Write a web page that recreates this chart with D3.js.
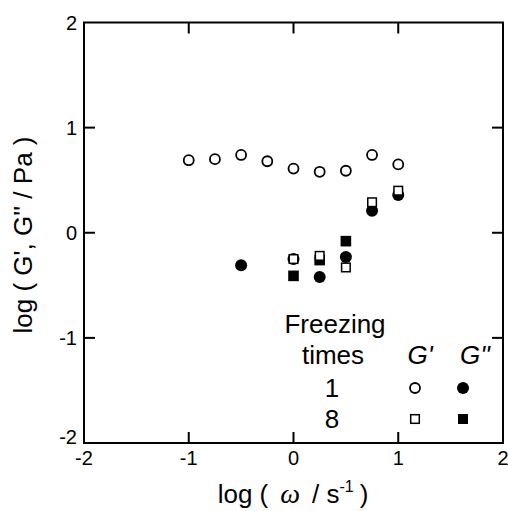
<!DOCTYPE html>
<html>
<head>
<meta charset="utf-8">
<script src="https://cdn.jsdelivr.net/npm/d3@7"></script>
<style>
  body { margin: 0; background: #fff; }
  text { font-family: "Liberation Sans", Arial, sans-serif; fill: #000; }
</style>
</head>
<body>
<svg id="chart" width="508" height="511"></svg>
<script>
// data
let freq = [-1, -0.75, -0.5, -0.25, 0, 0.25, 0.5, 0.75, 1]
let gPrime1 = [0.69, 0.70, 0.74, 0.68, 0.61, 0.58, 0.59, 0.74, 0.65]

let freqLoss1 = [-0.5, 0, 0.25, 0.5, 0.75, 1]
let gDouble1 = [-0.31, -0.25, -0.42, -0.23, 0.21, 0.36]

let freq8 = [0, 0.25, 0.5, 0.75, 1]
let gPrime8 = [-0.25, -0.22, -0.33, 0.29, 0.40]

let freqLoss8 = [0, 0.25, 0.5]
let gDouble8 = [-0.41, -0.26, -0.08]

let tickVals = [-2, -1, 0, 1, 2]

let svg = d3.select('#chart')
let mLeft = 84, mTop = 22.5, w = 419, h = 420.5

let x = d3.scaleLinear().domain([-2, 2]).range([mLeft, mLeft + w])
let y = d3.scaleLinear().domain([-2, 2]).range([mTop + h, mTop])

// frame
svg.append('rect')
    .attr('x', mLeft).attr('y', mTop)
    .attr('width', w).attr('height', h)
    .attr('fill', 'none').attr('stroke', '#000').attr('stroke-width', 2)

let inner = [-1, 0, 1]
// inward ticks on all four sides
svg.selectAll('.tb').data(inner).enter().append('line')
    .attr('x1', d => x(d)).attr('x2', d => x(d))
    .attr('y1', mTop + h).attr('y2', mTop + h - 11)
    .attr('stroke', '#000').attr('stroke-width', 2)
svg.selectAll('.tt').data(inner).enter().append('line')
    .attr('x1', d => x(d)).attr('x2', d => x(d))
    .attr('y1', mTop).attr('y2', mTop + 11)
    .attr('stroke', '#000').attr('stroke-width', 2)
svg.selectAll('.tl').data(inner).enter().append('line')
    .attr('y1', d => y(d)).attr('y2', d => y(d))
    .attr('x1', mLeft).attr('x2', mLeft + 11)
    .attr('stroke', '#000').attr('stroke-width', 2)
svg.selectAll('.tr').data(inner).enter().append('line')
    .attr('y1', d => y(d)).attr('y2', d => y(d))
    .attr('x1', mLeft + w).attr('x2', mLeft + w - 11)
    .attr('stroke', '#000').attr('stroke-width', 2)

// tick labels
svg.selectAll('.xl').data(tickVals).enter().append('text')
    .attr('x', d => x(d)).attr('y', mTop + h + 22)
    .attr('text-anchor', 'middle').attr('font-size', 20)
    .text(d => d)
svg.selectAll('.yl').data(tickVals).enter().append('text')
    .attr('x', mLeft - 7).attr('y', d => y(d) + (d === -2 ? 1 : 7))
    .attr('text-anchor', 'end').attr('font-size', 20)
    .text(d => d)

// axis titles
let xt = svg.append('text')
    .attr('x', 293).attr('y', 503)
    .attr('text-anchor', 'middle').attr('font-size', 26)
xt.append('tspan').text('log (')
xt.append('tspan').attr('dx', 12).attr('font-family', '"Liberation Serif", serif').attr('font-style', 'italic').attr('font-size', 28).text('ω')
xt.append('tspan').attr('dx', 12).text('/ s')
xt.append('tspan').attr('font-size', 16).attr('dy', -11).text('-1')
xt.append('tspan').attr('dy', 11).attr('dx', 6).text(')')

svg.append('text')
    .attr('transform', 'translate(32,235) rotate(-90)')
    .attr('text-anchor', 'middle').attr('font-size', 26)
    .text("log ( G', G'' / Pa )")

// markers
let openCircle = (sel, r) => sel.attr('r', r).attr('fill', '#fff').attr('stroke', '#000').attr('stroke-width', 1.8)

svg.selectAll('.gp1').data(freq).enter().append('circle')
    .attr('cx', d => x(d)).attr('cy', (d, i) => y(gPrime1[i]))
    .call(openCircle, 5)

svg.selectAll('.gd1').data(freqLoss1).enter().append('circle')
    .attr('cx', d => x(d)).attr('cy', (d, i) => y(gDouble1[i]))
    .attr('r', 6).attr('fill', '#000')

svg.selectAll('.gd8').data(freqLoss8).enter().append('rect')
    .attr('x', d => x(d) - 5.3).attr('y', (d, i) => y(gDouble8[i]) - 5.3)
    .attr('width', 10.6).attr('height', 10.6).attr('fill', '#000')

svg.selectAll('.gp8').data(freq8).enter().append('rect')
    .attr('x', d => x(d) - 4.3).attr('y', (d, i) => y(gPrime8[i]) - 4.3)
    .attr('width', 8.6).attr('height', 8.6)
    .attr('fill', '#fff').attr('stroke', '#000').attr('stroke-width', 1.5)

// legend
let lg = svg.append('g').attr('font-size', 26)
lg.append('text').attr('x', 335).attr('y', 333).attr('text-anchor', 'middle').text('Freezing')
lg.append('text').attr('x', 333).attr('y', 364).attr('text-anchor', 'middle').text('times')
lg.append('text').attr('x', 332).attr('y', 397).attr('text-anchor', 'middle').text('1')
lg.append('text').attr('x', 332).attr('y', 428).attr('text-anchor', 'middle').text('8')
lg.append('text').attr('x', 420).attr('y', 364).attr('text-anchor', 'middle').attr('font-style', 'italic').text("G'")
lg.append('text').attr('x', 475).attr('y', 364).attr('text-anchor', 'middle').attr('font-style', 'italic').text("G''")

svg.append('circle').attr('cx', 415).attr('cy', 388).call(openCircle, 5)
svg.append('circle').attr('cx', 463).attr('cy', 388).attr('r', 6).attr('fill', '#000')
svg.append('rect').attr('x', 415 - 4.3).attr('y', 419 - 4.3).attr('width', 8.6).attr('height', 8.6)
    .attr('fill', '#fff').attr('stroke', '#000').attr('stroke-width', 1.5)
svg.append('rect').attr('x', 463 - 5).attr('y', 419 - 5).attr('width', 10).attr('height', 10).attr('fill', '#000')
</script>
</body>
</html>
